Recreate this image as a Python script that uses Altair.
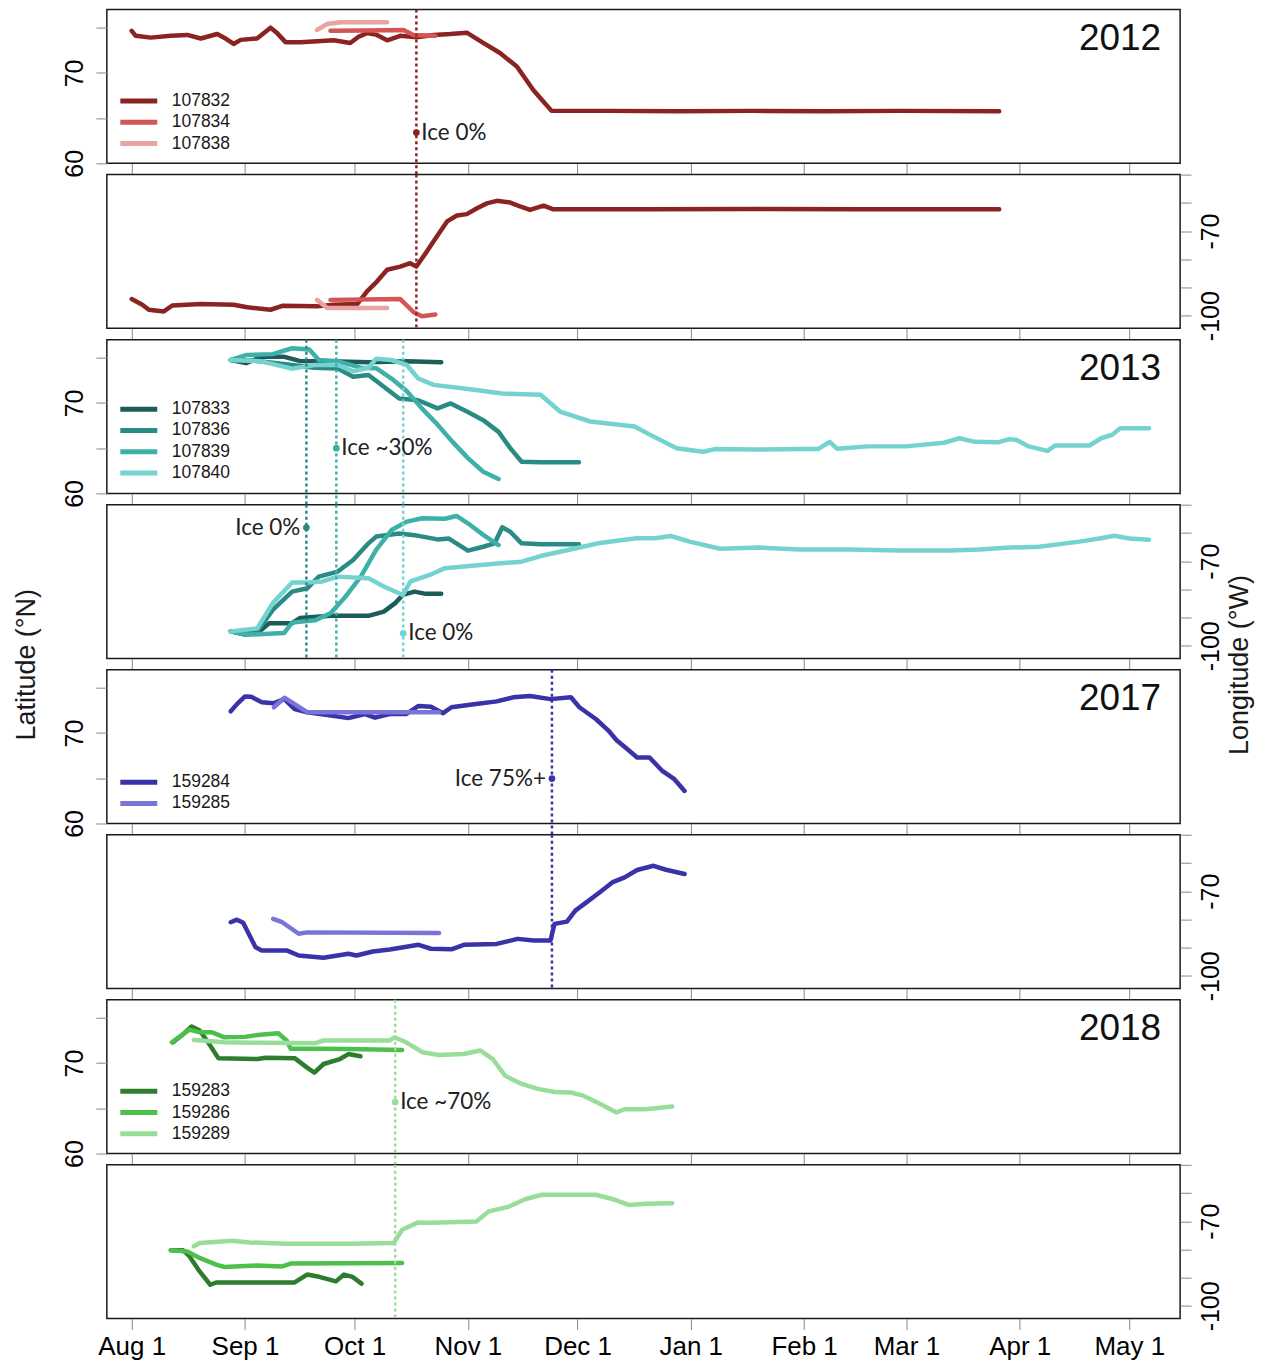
import altair as alt
import pandas as pd

# ---------------- axes / layout values ----------------
X_DOMAIN = [-6.8, 286.9]          # days since Aug 1
MONTH_DAYS = [0, 31, 61, 92, 122, 153, 184, 212, 243, 273]
MONTH_LABELS = ["Aug 1", "Sep 1", "Oct 1", "Nov 1", "Dec 1", "Jan 1",
                "Feb 1", "Mar 1", "Apr 1", "May 1"]
LAT_DOMAIN = [60, 77]
LAT_TICKS = [60, 65, 70, 75]
LON_DOMAIN = [-104.5, -50]
LON_TICKS = [-50, -60, -70, -80, -90, -100]

YEARS = ["2012", "2013", "2017", "2018"]
TAGS = {
    "2012": ["107832", "107834", "107838"],
    "2013": ["107833", "107836", "107839", "107840"],
    "2017": ["159284", "159285"],
    "2018": ["159283", "159286", "159289"],
}
COLORS = {
    "2012": ["#8B2323", "#D45555", "#E8A3A3"],
    "2013": ["#1D5C58", "#2A8A84", "#3DB0A8", "#74D3CE"],
    "2017": ["#3A32A8", "#7B74D8"],
    "2018": ["#2E7D2E", "#4DBF4D", "#98DE98"],
}

# ---------------- tracks (day since Aug 1, value) ----------------
# 2012
T107832_LAT_DAY = [0, 1.1, 5.2, 10.7, 15.2, 18.9, 23.4, 25.7, 27.9, 29.8, 34.3, 38, 39.8, 42.1, 46.2,
                   55.3, 59.8, 62.1, 64.4, 67.1, 69.9, 73.5, 78, 82.6, 87.2, 91.7, 96.3, 100.8, 105.4,
                   109.9, 112.7, 114.9, 130, 150, 170, 190, 210, 237.4]
T107832_LAT = [74.65, 74.1, 73.9, 74.1, 74.2, 73.8, 74.3, 73.8, 73.2, 73.65, 73.8, 75.0, 74.4, 73.4, 73.4,
               73.6, 73.3, 74.0, 74.4, 74.2, 73.6, 74.1, 73.95, 74.2, 74.3, 74.45, 73.3, 72.2, 70.7,
               68.1, 66.8, 65.8, 65.8, 65.75, 65.8, 65.75, 65.8, 65.75]
T107832_LON_DAY = [0, 2.9, 4.7, 8.8, 11.1, 18.9, 27.9, 31.6, 38, 41.2, 50.7, 55.3, 61.7, 64.4, 67.1, 69.9,
                   73.5, 76.2, 77.9, 80.8, 83.5, 86.3, 89, 91.7, 94.5, 97.2, 99.9, 103.6, 106.3, 109,
                   112.7, 115.4, 140, 170, 200, 237.4]
T107832_LON = [-94.1, -96.1, -97.9, -98.5, -96.4, -95.9, -96.1, -97.0, -97.9, -96.5, -96.7, -96.1, -95.9,
               -91.4, -87.9, -83.7, -82.6, -81.4, -82.6, -77.2, -71.9, -66.6, -64.5, -64.0, -61.9, -60.2,
               -59.3, -59.9, -61.3, -62.5, -61.0, -62.3, -62.3, -62.2, -62.3, -62.3]
T107834_LAT_DAY = [54.4, 64, 74.4, 77.1, 83.1]
T107834_LAT = [74.65, 74.7, 74.75, 74.2, 74.1]
T107834_LON_DAY = [54.4, 73.5, 77.1, 79.4, 83.1]
T107834_LON = [-94.4, -94.1, -98.7, -100.2, -99.6]
T107838_LAT_DAY = [50.7, 53.5, 57.1, 69.9]
T107838_LAT = [74.75, 75.4, 75.6, 75.6]
T107838_LON_DAY = [50.7, 53.5, 69.9]
T107838_LON = [-94.4, -97.3, -97.3]

# 2013
T107833_LAT_DAY = [27.1, 31.3, 35.5, 41.8, 45.9, 54.4, 64.8, 75.3, 84.7]
T107833_LAT = [74.75, 74.4, 75.1, 75.1, 74.65, 74.6, 74.5, 74.6, 74.5]
T107833_LON_DAY = [27.1, 31.3, 35.5, 37.6, 43.9, 46, 54.4, 64.8, 69, 72.1, 74.2, 77.4, 80.5, 84.7]
T107833_LON = [-94.9, -96.1, -94.3, -92.0, -92.0, -90.2, -89.4, -89.4, -87.9, -84.9, -82.0, -80.8, -81.6, -81.6]
T107836_LAT_DAY = [27.1, 34.4, 43.9, 50.1, 56.4, 60.6, 64.8, 69, 73.2, 78.4, 83.7, 87.3, 92, 96.2, 100.4,
                   103.6, 106.7, 111.9, 122.4]
T107836_LAT = [74.75, 74.65, 74.2, 73.9, 73.8, 72.9, 73.1, 71.8, 70.5, 70.3, 69.4, 69.95, 69.0, 68.1, 66.8,
               65.0, 63.5, 63.45, 63.45]
T107836_LON_DAY = [27.1, 34.4, 38.6, 43.9, 48.1, 51.2, 56.4, 60.6, 64.8, 66.9, 73.2, 77.4, 83.7, 86.8, 92,
                   96.2, 99.3, 101.4, 103.6, 106.7, 111.9, 122.4]
T107836_LON = [-94.9, -94.9, -87.3, -80.8, -79.6, -75.5, -73.7, -69.6, -63.7, -61.3, -60.2, -60.8, -62.3,
               -62.0, -66.3, -64.9, -63.7, -58.0, -59.6, -63.7, -64.0, -64.0]
T107839_LAT_DAY = [27.1, 31.3, 38.6, 43.9, 48.6, 51.2, 56.4, 62.7, 66.9, 71.1, 75.3, 79.4, 83.7, 87.8, 92,
                   96.2, 100.4]
T107839_LAT = [74.75, 75.3, 75.4, 76.05, 75.9, 74.75, 74.6, 73.9, 73.85, 72.7, 71.3, 69.4, 67.6, 65.7, 63.9,
               62.4, 61.6]
T107839_LON_DAY = [27.1, 31.3, 41.7, 43.9, 50.1, 54.4, 58.5, 62.7, 66.9, 71.1, 75.3, 79.5, 85.7, 88.9, 92,
                   96.2, 100.4]
T107839_LON = [-94.9, -96.1, -95.5, -91.8, -91.0, -88.5, -82.6, -75.5, -66.0, -59.0, -56.0, -54.8, -55.0,
               -54.0, -56.6, -60.7, -64.3]
T107840_LAT_DAY = [27.1, 35.5, 43.9, 50.1, 56.4, 60.6, 64.8, 66.9, 71.1, 75.3, 78.4, 82.6, 91, 101.4, 111.9,
                   117.2, 125.5, 137.6, 141.8, 149.1, 156.4, 159.6, 170, 183.6, 187.8, 191, 193, 201.4,
                   211.9, 222.3, 226.5, 230.7, 237, 240.2, 242.2, 245.4, 250.6, 252.7, 262.1, 265.3,
                   268.4, 270.5, 278.4]
T107840_LAT = [74.75, 74.6, 73.8, 74.2, 74.2, 73.5, 73.9, 74.9, 74.75, 74.2, 72.7, 72.0, 71.6, 71.05, 70.9,
               69.05, 67.95, 67.4, 66.5, 65.0, 64.6, 64.9, 64.85, 64.9, 64.9, 65.7, 64.95, 65.2,
               65.2, 65.6, 66.1, 65.7, 65.65, 66.0, 65.9, 65.2, 64.7, 65.3, 65.3, 66.1,
               66.5, 67.2, 67.2]
T107840_LON_DAY = [27.1, 34.4, 38.6, 43.9, 48.1, 52.2, 56.4, 64.8, 69, 74.2, 76.3, 81.6, 85.7, 96.2, 106.7,
                   111.9, 123.4, 127.6, 138.1, 143.3, 147.5, 152.7, 161, 171.9, 182.8, 196.4, 210, 223.8,
                   232, 240.2, 248.4, 259.3, 264.8, 268.9, 273, 278.4]
T107840_LON = [-94.9, -93.8, -84.9, -77.6, -77.6, -77.2, -75.5, -76.1, -79.0, -82.0, -77.2, -74.9, -72.5,
               -71.3, -70.2, -68.2, -64.9, -63.7, -61.9, -61.9, -61.1, -63.1, -65.6, -65.2, -65.9, -65.9,
               -66.2, -66.2, -65.9, -65.2, -64.9, -63.1, -62.0, -61.0, -62.0, -62.4]

# 2017
T159284_LAT_DAY = [27.1, 28.8, 31, 32.7, 35.6, 38.9, 41.8, 44.6, 48, 53.6, 59.3, 63.8, 66.6, 70.6, 75.1,
                   78.5, 81.9, 85.2, 87.5, 93.1, 99.9, 104.4, 109, 114.6, 120.2, 122.5, 127, 130.4, 132.7,
                   136, 138.3, 141.7, 145.1, 148.5, 151.3]
T159284_LAT = [72.4, 73.2, 74.05, 74.0, 73.4, 73.3, 73.75, 72.65, 72.3, 72.0, 71.65, 72.1, 71.7, 72.1, 72.1,
               73.0, 72.9, 72.2, 72.85, 73.15, 73.5, 73.95, 74.1, 73.75, 73.95, 72.85, 71.55, 70.3, 69.2,
               68.1, 67.3, 67.3, 65.85, 64.9, 63.6]
T159284_LON_DAY = [27.1, 28.8, 30.5, 33.9, 35.6, 42.4, 45.7, 52.5, 59.3, 61.5, 66, 70.6, 78.5, 81.9, 87.5,
                   90.9, 99.9, 105.6, 110, 114.6, 115.7, 119.1, 121.4, 124.7, 128.1, 131.5, 134.9, 138.3,
                   142.8, 146.2, 151.3]
T159284_LON = [-81.0, -80.1, -81.2, -89.9, -91.0, -91.0, -92.8, -93.6, -92.2, -92.8, -91.4, -90.7, -89.0,
               -90.4, -90.6, -89.0, -88.7, -86.9, -87.5, -87.5, -81.6, -80.8, -76.9, -73.7, -70.4, -66.9,
               -65.1, -62.5, -61.0, -62.4, -63.9]
T159285_LAT_DAY = [38.9, 41.8, 44.6, 48, 84.1]
T159285_LAT = [72.85, 73.9, 73.2, 72.3, 72.3]
T159285_LON_DAY = [38.7, 41.2, 45.7, 48, 84.1]
T159285_LON = [-79.8, -81.0, -85.1, -84.6, -84.8]

# 2018
T159283_LAT_DAY = [11.3, 14.1, 16.4, 18.6, 20.9, 23.7, 34.4, 36.7, 44.6, 48, 50, 52.5, 57, 59.3, 62.6]
T159283_LAT = [72.3, 73.2, 74.05, 73.6, 72.3, 70.55, 70.45, 70.6, 70.55, 69.5, 68.95, 69.9, 70.45, 71.0, 70.75]
T159283_LON_DAY = [10.7, 14.1, 15.8, 18.6, 21.5, 23.1, 44.6, 48, 51.3, 55.9, 58.1, 60.4, 62.9]
T159283_LON = [-80.3, -80.3, -82.4, -87.8, -92.5, -91.7, -91.7, -88.9, -89.7, -91.3, -88.9, -89.7, -92.1]
T159286_LAT_DAY = [11, 15.8, 18.6, 22, 25.4, 31, 34.4, 40.1, 42.4, 43.5, 50.2, 59.3, 74]
T159286_LAT = [72.3, 73.7, 73.4, 73.4, 72.85, 72.9, 73.1, 73.3, 72.5, 71.6, 71.6, 71.55, 71.45]
T159286_LON_DAY = [10.7, 15.2, 18.6, 23.1, 25.4, 34.4, 41.2, 43.5, 74]
T159286_LON = [-80.3, -80.7, -83.0, -85.4, -86.2, -85.7, -86.0, -85.0, -84.8]
T159289_LAT_DAY = [17, 25.4, 36.7, 50.2, 52.5, 70.6, 71.9, 75.1, 79.6, 84.1, 90.9, 95.4, 98.8, 102.2, 106.7,
                   111.2, 115.7, 120.2, 123.6, 128.1, 132.7, 134.9, 140.6, 147.9]
T159289_LAT = [72.55, 72.3, 72.25, 72.2, 72.5, 72.5, 72.85, 72.3, 71.2, 70.9, 71.0, 71.4, 70.45, 68.6, 67.7,
               67.15, 66.8, 66.75, 66.4, 65.5, 64.55, 64.9, 64.9, 65.2]
T159289_LON_DAY = [17, 18.6, 27.6, 32.2, 42.4, 59.3, 71.7, 74, 78.4, 81.9, 94.3, 97.7, 103.3, 107.8, 112.3,
                   127, 131.5, 136, 140.6, 147.9]
T159289_LON = [-78.9, -77.7, -76.9, -77.5, -78.0, -78.0, -77.7, -73.0, -70.4, -70.5, -70.1, -66.5, -64.8,
               -62.1, -60.6, -60.6, -62.1, -64.2, -63.8, -63.6]

TRACKS = [
    ("2012", "107832", T107832_LAT_DAY, T107832_LAT, T107832_LON_DAY, T107832_LON),
    ("2012", "107834", T107834_LAT_DAY, T107834_LAT, T107834_LON_DAY, T107834_LON),
    ("2012", "107838", T107838_LAT_DAY, T107838_LAT, T107838_LON_DAY, T107838_LON),
    ("2013", "107833", T107833_LAT_DAY, T107833_LAT, T107833_LON_DAY, T107833_LON),
    ("2013", "107836", T107836_LAT_DAY, T107836_LAT, T107836_LON_DAY, T107836_LON),
    ("2013", "107839", T107839_LAT_DAY, T107839_LAT, T107839_LON_DAY, T107839_LON),
    ("2013", "107840", T107840_LAT_DAY, T107840_LAT, T107840_LON_DAY, T107840_LON),
    ("2017", "159284", T159284_LAT_DAY, T159284_LAT, T159284_LON_DAY, T159284_LON),
    ("2017", "159285", T159285_LAT_DAY, T159285_LAT, T159285_LON_DAY, T159285_LON),
    ("2018", "159283", T159283_LAT_DAY, T159283_LAT, T159283_LON_DAY, T159283_LON),
    ("2018", "159286", T159286_LAT_DAY, T159286_LAT, T159286_LON_DAY, T159286_LON),
    ("2018", "159289", T159289_LAT_DAY, T159289_LAT, T159289_LON_DAY, T159289_LON),
]

# ---------------- sea-ice departure markers ----------------
ICE_YEAR = ["2012", "2013", "2013", "2013", "2017", "2018"]
ICE_DAY = [77.9, 47.8, 56.0, 74.3, 115.0, 72.1]
ICE_KIND = ["lat", "lon", "lat", "lon", "lat", "lat"]
ICE_VALUE = [63.4, -58.1, 65.0, -95.6, 64.97, 65.7]
ICE_TEXT = ["Ice 0%", "Ice 0%", "Ice ~30%", "Ice 0%", "Ice 75%+", "Ice ~70%"]
ICE_SIDE = ["right", "left", "right", "right", "left", "right"]
ICE_COLOR = ["#8B2323", "#2A8A84", "#3DB0A8", "#74D3CE", "#3A32A8", "#98DE98"]

rows = []
for year, tag, ld, lv, od, ov in TRACKS:
    for i, (d, v) in enumerate(zip(ld, lv)):
        rows.append({"year": year, "id": tag, "kind": "lat", "day": d, "value": v, "seq": i})
    for i, (d, v) in enumerate(zip(od, ov)):
        rows.append({"year": year, "id": tag, "kind": "lon", "day": d, "value": v, "seq": i})
DF = pd.DataFrame(rows)
ICE = pd.DataFrame({"year": ICE_YEAR, "day": ICE_DAY, "kind": ICE_KIND, "value": ICE_VALUE,
                    "text": ICE_TEXT, "side": ICE_SIDE, "color": ICE_COLOR})

W, H, GAP = 1075, 154, 11.3
INK = "#1a1a1a"
AXFONT = "Liberation Sans"

LABEL_EXPR = ("[" + ",".join("'%s'" % s for s in MONTH_LABELS) + "][indexof(["
              + ",".join(str(d) for d in MONTH_DAYS) + "], datum.value)]")

XS = alt.Scale(domain=X_DOMAIN, nice=False, zero=False)
FRAME = alt.ViewBackground(stroke=INK, strokeWidth=1.5, fill="white")


def panel(year, kind, last, title_lat=False, title_lon=False):
    ids, cols = TAGS[year], COLORS[year]
    xaxis = alt.Axis(values=MONTH_DAYS, tickSize=11, labels=last, labelExpr=LABEL_EXPR,
                     labelFontSize=26, labelPadding=4, labelFlush=False, labelOverlap=False,
                     title=None, domain=False, grid=False)
    if kind == "lat":
        ys = alt.Scale(domain=LAT_DOMAIN, nice=False, zero=False)
        yaxis = alt.Axis(orient="left", values=LAT_TICKS, tickSize=11,
                         labelExpr="datum.value % 10 == 0 ? '' + datum.value : ''",
                         labelAngle=270, labelAlign="center", labelBaseline="alphabetic",
                         labelPadding=13, labelFontSize=25, labelOverlap=False, labelFlush=False,
                         domain=False, grid=False,
                         title="Latitude (°N)" if title_lat else None,
                         titleFontSize=27, titleFontWeight="normal", titleFont=AXFONT,
                         titleAngle=270, titleAlign="center", titleBaseline="middle",
                         titleX=-80, titleY=663.5 - 669, titleColor=INK)
        legend = alt.Legend(title=None, orient="bottom-left", offset=11, padding=0,
                            symbolType="stroke", symbolStrokeWidth=5, symbolSize=1369,
                            clipHeight=17.3, rowPadding=2.3, labelFontSize=17.5, labelFont=AXFONT,
                            labelOffset=12, labelColor=INK)
    else:
        ys = alt.Scale(domain=LON_DOMAIN, nice=False, zero=False)
        yaxis = alt.Axis(orient="right", values=LON_TICKS, tickSize=11,
                         labelExpr="datum.value == -70 || datum.value == -100 ? '' + datum.value : ''",
                         labelAngle=270, labelAlign="center", labelBaseline="top",
                         labelPadding=7, labelFontSize=25, labelOverlap=False, labelFlush=False,
                         domain=False, grid=False,
                         title="Longitude (°W)" if title_lon else None,
                         titleFontSize=27, titleFontWeight="normal", titleFont=AXFONT,
                         titleAngle=270, titleAlign="center", titleBaseline="middle",
                         titleX=59, titleY=663.5 - 834, titleColor=INK)
        legend = None

    X = alt.X("day:Q", scale=XS, axis=xaxis)
    Y = alt.Y("value:Q", scale=ys, axis=yaxis)

    lines = alt.Chart(DF).transform_filter(
        (alt.datum.year == year) & (alt.datum.kind == kind)
    ).mark_line(strokeWidth=4.5, strokeCap="round", strokeJoin="round").encode(
        x=X, y=Y,
        color=alt.Color("id:N", scale=alt.Scale(domain=ids, range=cols), legend=legend),
        order=alt.Order("seq:Q"),
        detail="id:N",
    )

    ice_y = ICE[ICE.year == year]
    rules = alt.Chart(ice_y).mark_rule(strokeDash=[3, 3], strokeWidth=2.5).encode(
        x=X,
        y=alt.value(0),
        y2=alt.value(H + GAP if kind == "lat" else H),
        color=alt.Color("color:N", scale=None),
    )
    layers = [lines, rules]

    ice_k = ice_y[ice_y.kind == kind]
    if len(ice_k):
        dots = alt.Chart(ice_k).mark_circle(size=45, opacity=1).encode(
            x=X, y=Y,
            color=alt.Color("color:N", scale=None),
        )
        layers.append(dots)
        for side, align, dx in (("right", "left", 5), ("left", "right", -6)):
            sub = ice_k[ice_k.side == side]
            if len(sub):
                layers.append(alt.Chart(sub).mark_text(
                    align=align, baseline="middle", dx=dx, font="Lato", fontSize=22.5, color="#222"
                ).encode(x=X, y=Y, text="text:N"))
    if kind == "lat":
        yr = pd.DataFrame({"label": [year]})
        layers.append(alt.Chart(yr).mark_text(
            align="right", baseline="middle", font=AXFONT, fontSize=37, color="#111"
        ).encode(x=alt.value(W - 19), y=alt.value(29), text="label:N"))

    return alt.layer(*layers).properties(width=W, height=H, view=FRAME)


panels = []
for yi, year in enumerate(YEARS):
    panels.append(panel(year, "lat", False, title_lat=(year == "2017")))
    panels.append(panel(year, "lon", yi == len(YEARS) - 1, title_lon=(year == "2017")))

chart = alt.vconcat(*panels, spacing=GAP, bounds="flush").resolve_scale(
    color="independent", x="independent", y="independent"
).properties(
    padding={"left": 4, "top": -1.5, "right": 4, "bottom": 0}
).configure_view(
    stroke=INK, strokeWidth=1.5
).configure_axis(
    labelFont=AXFONT, labelColor=INK, tickColor=INK, tickWidth=1.5
).configure(background="white")

chart.save("out.html", embed_options={"renderer": "svg", "actions": False})
